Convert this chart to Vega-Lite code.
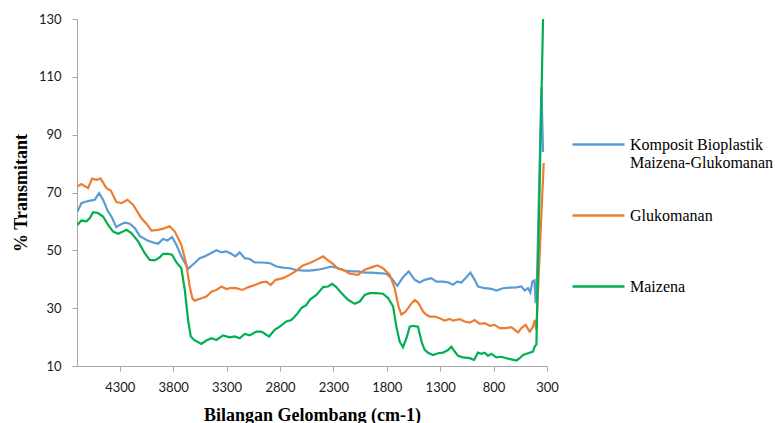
{
  "$schema": "https://vega.github.io/schema/vega-lite/v6.json",
  "width": 470,
  "height": 347,
  "autosize": {"type": "none"},
  "padding": {"left": 77, "top": 19, "right": 228, "bottom": 57},
  "background": "white",
  "config": {"view": {"stroke": null}, "font": "Liberation Serif"},
  "datasets": {
    "komposit": [
      {"w":4696,"t":63.4},{"w":4659,"t":66.3},{"w":4612,"t":66.9},{"w":4565,"t":67.3},{"w":4534,"t":67.5},{"w":4493,"t":69.8},{"w":4456,"t":67.5},{"w":4409,"t":63.4},{"w":4378,"t":61.7},{"w":4331,"t":58.0},{"w":4300,"t":58.8},{"w":4253,"t":59.6},{"w":4206,"t":59.2},{"w":4159,"t":57.7},{"w":4113,"t":55.0},{"w":4050,"t":53.6},{"w":3988,"t":52.7},{"w":3941,"t":52.3},{"w":3894,"t":53.9},{"w":3854,"t":53.4},{"w":3810,"t":54.6},{"w":3769,"t":51.9},{"w":3723,"t":47.9},{"w":3660,"t":43.6},{"w":3598,"t":45.6},{"w":3551,"t":47.3},{"w":3504,"t":47.9},{"w":3457,"t":48.8},{"w":3395,"t":50.0},{"w":3348,"t":49.3},{"w":3302,"t":49.6},{"w":3255,"t":48.8},{"w":3217,"t":47.9},{"w":3177,"t":49.3},{"w":3130,"t":47.3},{"w":3083,"t":47.0},{"w":3036,"t":45.8},{"w":2974,"t":45.8},{"w":2896,"t":45.6},{"w":2833,"t":44.4},{"w":2771,"t":44.0},{"w":2709,"t":43.8},{"w":2646,"t":43.2},{"w":2584,"t":43.0},{"w":2521,"t":43.0},{"w":2443,"t":43.3},{"w":2381,"t":43.8},{"w":2318,"t":44.4},{"w":2256,"t":43.8},{"w":2194,"t":43.0},{"w":2131,"t":42.7},{"w":2069,"t":42.7},{"w":2006,"t":42.3},{"w":1944,"t":42.3},{"w":1882,"t":42.1},{"w":1804,"t":41.9},{"w":1757,"t":40.4},{"w":1701,"t":37.7},{"w":1648,"t":40.7},{"w":1595,"t":42.7},{"w":1538,"t":39.8},{"w":1492,"t":38.9},{"w":1445,"t":39.8},{"w":1383,"t":40.4},{"w":1336,"t":39.2},{"w":1273,"t":39.2},{"w":1227,"t":38.9},{"w":1180,"t":38.1},{"w":1142,"t":39.2},{"w":1102,"t":38.9},{"w":1055,"t":40.7},{"w":1017,"t":42.3},{"w":977,"t":39.8},{"w":946,"t":37.5},{"w":883,"t":36.9},{"w":821,"t":36.7},{"w":774,"t":36.1},{"w":712,"t":36.9},{"w":649,"t":37.1},{"w":587,"t":37.2},{"w":540,"t":37.5},{"w":509,"t":36.1},{"w":478,"t":36.9},{"w":456,"t":35.4},{"w":437,"t":39.2},{"w":418,"t":39.6},{"w":406,"t":31.7},{"w":394,"t":39.8},{"w":352,"t":106.5},{"w":337,"t":84.0}
    ],
    "glukomanan": [
      {"w":4696,"t":72.1},{"w":4659,"t":72.9},{"w":4596,"t":71.5},{"w":4559,"t":74.8},{"w":4518,"t":74.4},{"w":4478,"t":74.8},{"w":4425,"t":71.5},{"w":4384,"t":70.7},{"w":4331,"t":66.7},{"w":4284,"t":66.3},{"w":4228,"t":67.5},{"w":4175,"t":65.8},{"w":4097,"t":61.1},{"w":4050,"t":59.2},{"w":4003,"t":56.8},{"w":3941,"t":57.1},{"w":3885,"t":57.6},{"w":3832,"t":58.3},{"w":3785,"t":56.5},{"w":3723,"t":51.9},{"w":3676,"t":45.0},{"w":3645,"t":37.5},{"w":3620,"t":33.4},{"w":3598,"t":32.6},{"w":3536,"t":33.4},{"w":3489,"t":34.0},{"w":3442,"t":35.7},{"w":3395,"t":36.3},{"w":3348,"t":37.5},{"w":3302,"t":36.6},{"w":3255,"t":37.0},{"w":3208,"t":36.9},{"w":3152,"t":36.3},{"w":3099,"t":37.2},{"w":3036,"t":38.0},{"w":2974,"t":38.9},{"w":2927,"t":39.2},{"w":2887,"t":38.0},{"w":2840,"t":39.8},{"w":2771,"t":40.4},{"w":2709,"t":41.5},{"w":2646,"t":43.0},{"w":2584,"t":44.8},{"w":2521,"t":45.6},{"w":2459,"t":46.7},{"w":2396,"t":47.9},{"w":2350,"t":46.5},{"w":2303,"t":45.3},{"w":2256,"t":43.6},{"w":2209,"t":43.3},{"w":2147,"t":41.9},{"w":2069,"t":41.5},{"w":2006,"t":43.3},{"w":1944,"t":44.1},{"w":1888,"t":44.8},{"w":1835,"t":43.8},{"w":1772,"t":41.5},{"w":1726,"t":36.9},{"w":1690,"t":30.5},{"w":1663,"t":27.8},{"w":1630,"t":28.6},{"w":1600,"t":30.0},{"w":1565,"t":31.8},{"w":1538,"t":32.8},{"w":1510,"t":32.0},{"w":1492,"t":31.0},{"w":1460,"t":28.8},{"w":1430,"t":27.7},{"w":1398,"t":27.1},{"w":1351,"t":27.1},{"w":1305,"t":26.5},{"w":1258,"t":25.7},{"w":1211,"t":26.3},{"w":1180,"t":25.7},{"w":1117,"t":26.2},{"w":1070,"t":25.4},{"w":1024,"t":25.0},{"w":977,"t":25.9},{"w":930,"t":24.6},{"w":883,"t":24.8},{"w":836,"t":23.9},{"w":790,"t":24.2},{"w":743,"t":23.1},{"w":681,"t":23.1},{"w":634,"t":23.4},{"w":571,"t":21.6},{"w":540,"t":23.1},{"w":500,"t":24.2},{"w":462,"t":21.9},{"w":431,"t":23.6},{"w":415,"t":25.9},{"w":400,"t":22.5},{"w":331,"t":80.2}
    ],
    "maizena": [
      {"w":4696,"t":58.8},{"w":4659,"t":60.3},{"w":4612,"t":60.0},{"w":4581,"t":61.1},{"w":4549,"t":63.2},{"w":4503,"t":62.9},{"w":4456,"t":61.7},{"w":4409,"t":58.8},{"w":4362,"t":56.5},{"w":4315,"t":55.7},{"w":4269,"t":56.5},{"w":4237,"t":57.1},{"w":4191,"t":56.0},{"w":4128,"t":53.1},{"w":4066,"t":49.0},{"w":4019,"t":46.7},{"w":3972,"t":46.5},{"w":3925,"t":47.6},{"w":3894,"t":48.8},{"w":3847,"t":48.8},{"w":3810,"t":48.5},{"w":3769,"t":45.8},{"w":3723,"t":43.8},{"w":3691,"t":36.3},{"w":3660,"t":25.9},{"w":3635,"t":20.2},{"w":3604,"t":19.0},{"w":3536,"t":17.6},{"w":3489,"t":18.8},{"w":3442,"t":19.6},{"w":3395,"t":19.0},{"w":3333,"t":20.6},{"w":3270,"t":19.9},{"w":3224,"t":20.2},{"w":3177,"t":19.6},{"w":3130,"t":21.1},{"w":3083,"t":20.6},{"w":3021,"t":21.9},{"w":2974,"t":21.9},{"w":2902,"t":20.2},{"w":2849,"t":22.5},{"w":2802,"t":23.6},{"w":2740,"t":25.4},{"w":2693,"t":25.9},{"w":2646,"t":27.7},{"w":2599,"t":30.0},{"w":2553,"t":31.1},{"w":2521,"t":32.9},{"w":2459,"t":34.6},{"w":2396,"t":37.3},{"w":2350,"t":37.5},{"w":2312,"t":38.4},{"w":2272,"t":37.3},{"w":2225,"t":35.2},{"w":2162,"t":32.9},{"w":2100,"t":31.5},{"w":2053,"t":32.3},{"w":2006,"t":34.6},{"w":1960,"t":35.2},{"w":1897,"t":35.2},{"w":1835,"t":35.0},{"w":1788,"t":33.5},{"w":1741,"t":30.6},{"w":1710,"t":23.6},{"w":1679,"t":18.4},{"w":1648,"t":16.5},{"w":1616,"t":19.6},{"w":1585,"t":23.6},{"w":1554,"t":23.9},{"w":1508,"t":23.6},{"w":1470,"t":17.9},{"w":1445,"t":15.6},{"w":1414,"t":14.6},{"w":1367,"t":13.8},{"w":1320,"t":14.4},{"w":1273,"t":14.6},{"w":1227,"t":15.5},{"w":1195,"t":16.7},{"w":1164,"t":15.0},{"w":1133,"t":13.5},{"w":1086,"t":13.0},{"w":1024,"t":12.7},{"w":983,"t":12.1},{"w":946,"t":14.6},{"w":914,"t":14.2},{"w":883,"t":14.6},{"w":852,"t":13.5},{"w":821,"t":14.2},{"w":774,"t":13.0},{"w":727,"t":13.2},{"w":681,"t":12.7},{"w":634,"t":12.3},{"w":587,"t":11.9},{"w":556,"t":12.7},{"w":524,"t":13.8},{"w":478,"t":14.4},{"w":431,"t":15.0},{"w":415,"t":16.7},{"w":399,"t":17.5},{"w":337,"t":130}
    ]
  },
  "encoding": {
    "x": {
      "field": "w", "type": "quantitative", "title": "Bilangan Gelombang (cm-1)",
      "scale": {"domain": [300, 4700], "reverse": true, "nice": false, "zero": false},
      "axis": {"values": [4300, 3800, 3300, 2800, 2300, 1800, 1300, 800, 300], "format": "d", "grid": false,
        "domainColor": "#A6A6A6", "tickColor": "#A6A6A6", "tickSize": 5, "labelFont": "Lato", "labelFontSize": 13,
        "labelColor": "#1a1a1a", "labelPadding": 10, "labelFlush": false, "labelOverlap": false,
        "titleFont": "Liberation Serif", "titleFontSize": 18, "titleFontWeight": "bold", "titleColor": "black", "titlePadding": 12}
    },
    "y": {
      "field": "t", "type": "quantitative", "title": "% Transmitant",
      "scale": {"domain": [10, 130], "nice": false, "zero": false},
      "axis": {"values": [10, 30, 50, 70, 90, 110, 130], "format": "d", "grid": false,
        "domainColor": "#A6A6A6", "tickColor": "#A6A6A6", "tickSize": 5, "labelFont": "Lato", "labelFontSize": 13,
        "labelColor": "#1a1a1a", "labelPadding": 11, "labelFlush": false, "labelOverlap": false,
        "titleFont": "Liberation Serif", "titleFontSize": 18, "titleFontWeight": "bold", "titleColor": "black", "titlePadding": 8}
    }
  },
  "layer": [
    {
      "data": {"name": "komposit"},
      "mark": {"type": "line", "strokeWidth": 2.2, "clip": true},
      "encoding": {
        "color": {
          "datum": "Komposit Bioplastik Maizena-Glukomanan", "type": "nominal",
          "scale": {"domain": ["Komposit Bioplastik Maizena-Glukomanan", "Glukomanan", "Maizena"], "range": ["#5B9BD5", "#ED7D31", "#00B050"]},
          "legend": {"orient": "none", "legendX": 494, "legendY": 98, "title": null, "symbolType": "stroke", "symbolSize": 2704,
            "symbolStrokeWidth": 2.5, "labelFont": "Liberation Serif", "labelFontSize": 16, "labelColor": "black",
            "labelOffset": 4, "labelLimit": 400, "rowPadding": 17, "labelBaseline": "middle", "padding": 0,
            "labelExpr": "datum.label == 'Komposit Bioplastik Maizena-Glukomanan' ? ['Komposit Bioplastik', 'Maizena-Glukomanan'] : [datum.label, '']"}
        }
      }
    },
    {
      "data": {"name": "glukomanan"},
      "mark": {"type": "line", "strokeWidth": 2.2, "clip": true},
      "encoding": {
        "color": {"datum": "Glukomanan", "type": "nominal",
          "scale": {"domain": ["Komposit Bioplastik Maizena-Glukomanan", "Glukomanan", "Maizena"], "range": ["#5B9BD5", "#ED7D31", "#00B050"]}}
      }
    },
    {
      "data": {"name": "maizena"},
      "mark": {"type": "line", "strokeWidth": 2.2, "clip": true},
      "encoding": {
        "color": {"datum": "Maizena", "type": "nominal",
          "scale": {"domain": ["Komposit Bioplastik Maizena-Glukomanan", "Glukomanan", "Maizena"], "range": ["#5B9BD5", "#ED7D31", "#00B050"]}}
      }
    }
  ]
}
